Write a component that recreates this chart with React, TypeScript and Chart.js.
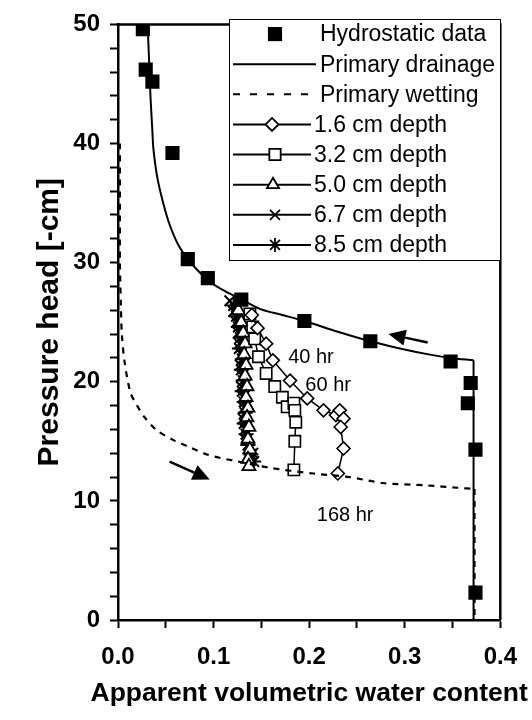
import { useEffect, useRef } from "react";
import { Chart, registerables } from "chart.js";

Chart.register(...registerables);

const FONT = "'Liberation Sans', Arial, Helvetica, sans-serif";

// ---- axis ticks & titles ----
const xTickValues = [0, 0.05, 0.1, 0.15, 0.2, 0.25, 0.3, 0.35, 0.4];
const xTickLabels = ["0.0", "", "0.1", "", "0.2", "", "0.3", "", "0.4"];
const yTickValues = [0, 2, 4, 6, 8, 10, 12, 14, 16, 18, 20, 22, 24, 26, 28, 30, 32, 34, 36, 38, 40, 42, 44, 46, 48, 50];
const yTickLabels = ["0", "", "", "", "", "10", "", "", "", "", "20", "", "", "", "", "30", "", "", "", "", "40", "", "", "", "", "50"];
const xTitle = "Apparent volumetric water content";
const yTitle = "Pressure head [-cm]";

// ---- series ----
const legendLabels = [
  "Hydrostatic data",
  "Primary drainage",
  "Primary wetting",
  "1.6 cm depth",
  "3.2 cm depth",
  "5.0 cm depth",
  "6.7 cm depth",
  "8.5 cm depth",
];

const hydroTheta = [0.026, 0.029, 0.036, 0.057, 0.073, 0.094, 0.129, 0.195, 0.264, 0.348, 0.369, 0.366, 0.374, 0.374];
const hydroHead = [49.6, 46.2, 45.2, 39.2, 30.3, 28.7, 26.9, 25.1, 23.4, 21.7, 19.9, 18.2, 14.3, 2.3];

const drainTheta = [0.031, 0.033, 0.034, 0.036, 0.037, 0.041, 0.047, 0.054, 0.063, 0.073, 0.084, 0.096, 0.112, 0.129, 0.149, 0.172, 0.195, 0.23, 0.264, 0.295, 0.325, 0.348, 0.372];
const drainHead = [50, 46, 43.9, 41, 39.6, 37.2, 35.1, 33.2, 31.5, 30.3, 29.3, 28.4, 27.6, 26.9, 26.1, 25.6, 25.1, 24.2, 23.4, 22.8, 22.3, 22.0, 21.8];
const drainVertTheta = [0.372, 0.372];
const drainVertHead = [21.8, 0];

const wetTheta = [0.002, 0.002, 0.002, 0.003, 0.004, 0.007, 0.013, 0.02, 0.028, 0.041, 0.058, 0.075, 0.093, 0.107, 0.12, 0.157, 0.204, 0.242, 0.277, 0.323, 0.355, 0.373];
const wetHead = [40, 34, 30, 26.5, 24.0, 21.6, 19.1, 18.0, 17.0, 15.9, 15.1, 14.5, 13.9, 13.6, 13.4, 12.8, 12.3, 12.0, 11.5, 11.3, 11.1, 11.0];
const wetVertTheta = [0.373, 0.373];
const wetVertHead = [11.0, 0];

const d16Theta = [0.14, 0.146, 0.155, 0.162, 0.18, 0.198, 0.215, 0.228, 0.232, 0.236, 0.233, 0.236, 0.23];
const d16Head = [25.6, 24.5, 23.2, 21.8, 20.1, 18.6, 17.6, 17.2, 17.6, 16.9, 16.2, 14.4, 12.3];

const d32Theta = [0.138, 0.141, 0.143, 0.147, 0.155, 0.164, 0.172, 0.177, 0.184, 0.185, 0.186, 0.185, 0.184];
const d32Head = [25.7, 24.6, 23.6, 22.1, 20.7, 19.6, 18.7, 17.9, 18.2, 17.6, 16.6, 15.0, 12.6];

const d50Theta = [0.126, 0.129, 0.131, 0.133, 0.132, 0.134, 0.133, 0.135, 0.134, 0.136, 0.135, 0.137, 0.136, 0.138, 0.136, 0.137];
const d50Head = [26.0, 25.0, 24.1, 23.2, 22.3, 21.4, 20.5, 19.6, 18.7, 17.8, 17.0, 16.2, 15.2, 14.3, 13.5, 12.9];

const d67Theta = [0.117, 0.121, 0.124, 0.126, 0.127, 0.129, 0.128, 0.13, 0.129, 0.131, 0.132, 0.131, 0.133, 0.134, 0.137, 0.141];
const d67Head = [26.8, 25.9, 25.0, 24.1, 23.2, 22.3, 21.4, 20.5, 19.6, 18.7, 17.8, 16.9, 16.0, 15.1, 14.4, 14.0];

const d85Theta = [0.121, 0.124, 0.126, 0.128, 0.127, 0.13, 0.129, 0.131, 0.13, 0.132, 0.133, 0.132, 0.134, 0.136, 0.139, 0.142];
const d85Head = [26.4, 25.5, 24.6, 23.7, 22.8, 21.9, 21.0, 20.1, 19.2, 18.3, 17.4, 16.5, 15.6, 14.7, 13.9, 13.3];

// ---- annotations ----
const noteTexts = ["40 hr", "60 hr", "168 hr"];
const noteTheta = [0.178, 0.196, 0.208];
const noteHead = [22.0, 19.7, 8.8];

const arrowTailTheta = [0.324, 0.054];
const arrowTailHead = [23.3, 13.3];
const arrowTipTheta = [0.283, 0.096];
const arrowTipHead = [24.0, 11.8];

const pts = (xs: number[], ys: number[]) => xs.map((x, i) => ({ x, y: ys[i] }));

function drawMarker(ctx: CanvasRenderingContext2D, style: string, x: number, y: number, r: number, fill: string) {
  ctx.beginPath();
  if (style === "rect") {
    const s = r * Math.SQRT1_2;
    ctx.rect(x - s, y - s, 2 * s, 2 * s);
    ctx.fillStyle = fill;
    ctx.fill();
    ctx.stroke();
  } else if (style === "rectRot") {
    ctx.moveTo(x, y - r);
    ctx.lineTo(x + r, y);
    ctx.lineTo(x, y + r);
    ctx.lineTo(x - r, y);
    ctx.closePath();
    ctx.fillStyle = fill;
    ctx.fill();
    ctx.stroke();
  } else if (style === "triangle") {
    ctx.moveTo(x, y - r);
    ctx.lineTo(x + r * 0.866, y + r * 0.5);
    ctx.lineTo(x - r * 0.866, y + r * 0.5);
    ctx.closePath();
    ctx.fillStyle = fill;
    ctx.fill();
    ctx.stroke();
  } else if (style === "crossRot") {
    const d = r * Math.SQRT1_2;
    ctx.moveTo(x - d, y - d);
    ctx.lineTo(x + d, y + d);
    ctx.moveTo(x - d, y + d);
    ctx.lineTo(x + d, y - d);
    ctx.stroke();
  } else if (style === "star") {
    const d = r * Math.SQRT1_2;
    ctx.moveTo(x - d, y - d);
    ctx.lineTo(x + d, y + d);
    ctx.moveTo(x - d, y + d);
    ctx.lineTo(x + d, y - d);
    ctx.moveTo(x, y - r);
    ctx.lineTo(x, y + r);
    ctx.moveTo(x - r, y);
    ctx.lineTo(x + r, y);
    ctx.stroke();
  }
}

const overlayPlugin = {
  id: "overlay",
  afterDatasetsDraw(chart: any) {
    const { ctx, chartArea, scales } = chart;
    const xs = scales.x;
    const ys = scales.y;
    ctx.save();

    // frame top & right
    ctx.strokeStyle = "#000";
    ctx.lineWidth = 2.5;
    ctx.setLineDash([]);
    ctx.beginPath();
    ctx.moveTo(chartArea.left - 1.25, chartArea.top);
    ctx.lineTo(chartArea.right, chartArea.top);
    ctx.lineTo(chartArea.right, chartArea.bottom);
    ctx.stroke();

    // notes
    ctx.fillStyle = "#000";
    ctx.font = `20px ${FONT}`;
    ctx.textAlign = "left";
    ctx.textBaseline = "middle";
    noteTexts.forEach((t, i) => {
      ctx.fillText(t, xs.getPixelForValue(noteTheta[i]), ys.getPixelForValue(noteHead[i]));
    });

    // arrows
    arrowTailTheta.forEach((_, i) => {
      const x0 = xs.getPixelForValue(arrowTailTheta[i]);
      const y0 = ys.getPixelForValue(arrowTailHead[i]);
      const x1 = xs.getPixelForValue(arrowTipTheta[i]);
      const y1 = ys.getPixelForValue(arrowTipHead[i]);
      const ang = Math.atan2(y1 - y0, x1 - x0);
      const hl = 17;
      const hw = 8;
      const bx = x1 - Math.cos(ang) * hl;
      const by = y1 - Math.sin(ang) * hl;
      ctx.lineWidth = 2.5;
      ctx.beginPath();
      ctx.moveTo(x0, y0);
      ctx.lineTo(bx, by);
      ctx.stroke();
      ctx.beginPath();
      ctx.moveTo(x1, y1);
      ctx.lineTo(bx + Math.sin(ang) * hw, by - Math.cos(ang) * hw);
      ctx.lineTo(bx - Math.sin(ang) * hw, by + Math.cos(ang) * hw);
      ctx.closePath();
      ctx.fill();
    });

    // legend
    const L = 229, T = 19, R = 500, B = 260;
    ctx.fillStyle = "#fff";
    ctx.fillRect(L, T, R - L, B - T);
    ctx.lineWidth = 1;
    ctx.strokeStyle = "#000";
    ctx.strokeRect(L + 0.5, T + 0.5, R - L, B - T);
    const rowH = (B - T) / 8;
    const styles = ["rect", "none", "none", "rectRot", "rect", "triangle", "crossRot", "star"];
    const markerR = [10, 0, 0, 6.5, 8, 7, 7, 7];
    const markerX = [275, 0, 0, 272, 275, 273, 275, 275];
    ctx.font = `23px ${FONT}`;
    legendLabels.forEach((lab, i) => {
      const cy = T + rowH * (i + 0.5);
      ctx.strokeStyle = "#000";
      ctx.lineWidth = 2;
      if (i === 1) {
        ctx.setLineDash([]);
        ctx.beginPath(); ctx.moveTo(233, cy); ctx.lineTo(316, cy); ctx.stroke();
      } else if (i === 2) {
        ctx.setLineDash([7, 10]);
        ctx.beginPath(); ctx.moveTo(233, cy); ctx.lineTo(316, cy); ctx.stroke();
        ctx.setLineDash([]);
      } else if (i >= 3) {
        ctx.beginPath(); ctx.moveTo(233, cy); ctx.lineTo(311, cy); ctx.stroke();
      }
      if (styles[i] !== "none") {
        ctx.lineWidth = i === 0 ? 0.01 : 1.8;
        drawMarker(ctx, styles[i], markerX[i], cy, markerR[i], i === 0 ? "#000" : "#fff");
      }
      ctx.fillStyle = "#000";
      ctx.textAlign = "left";
      ctx.textBaseline = "middle";
      ctx.fillText(lab, i < 3 ? 320 : 314, cy + 1);
    });

    ctx.restore();
  },
  afterDraw(chart: any) {
    // x-axis title, drawn wider than the axis (as in the reference)
    const { ctx, chartArea } = chart;
    ctx.save();
    ctx.fillStyle = "#000";
    ctx.font = `bold 26.5px ${FONT}`;
    ctx.textAlign = "center";
    ctx.textBaseline = "middle";
    ctx.fillText(xTitle, (chartArea.left + chartArea.right) / 2, chartArea.bottom + 74);
    ctx.restore();
  },
};

export default function App() {
  const ref = useRef<HTMLCanvasElement | null>(null);

  useEffect(() => {
    document.body.style.margin = "0";
    const canvas = ref.current;
    if (!canvas) return;

    const seriesLine = (label: string, data: any[], style: string, r: number, bw: number) => ({
      label,
      data,
      borderColor: "#000",
      borderWidth: 1.5,
      pointStyle: style,
      pointRadius: r,
      pointBackgroundColor: "#fff",
      pointBorderColor: "#000",
      pointBorderWidth: bw,
      showLine: true,
      tension: 0,
      order: 3,
    });

    const chart = new Chart(canvas, {
      type: "scatter",
      data: {
        datasets: [
          {
            label: legendLabels[0],
            data: pts(hydroTheta, hydroHead),
            pointStyle: "rect",
            pointRadius: 10,
            pointBackgroundColor: "#000",
            pointBorderColor: "#000",
            pointBorderWidth: 0,
            showLine: false,
            order: 0,
          } as any,
          {
            label: legendLabels[1],
            data: pts(drainTheta, drainHead),
            borderColor: "#000",
            borderWidth: 2,
            pointRadius: 0,
            showLine: true,
            tension: 0.3,
            order: 1,
          },
          {
            label: legendLabels[1] + " (saturated)",
            data: pts(drainVertTheta, drainVertHead),
            borderColor: "#000",
            borderWidth: 2,
            pointRadius: 0,
            showLine: true,
            order: 1,
          },
          {
            label: legendLabels[2],
            data: pts(wetTheta, wetHead),
            borderColor: "#000",
            borderWidth: 2.2,
            borderDash: [6, 6],
            pointRadius: 0,
            showLine: true,
            tension: 0.3,
            order: 2,
          },
          {
            label: legendLabels[2] + " (saturated)",
            data: pts(wetVertTheta, wetVertHead),
            borderColor: "#000",
            borderWidth: 2.2,
            borderDash: [6, 6],
            pointRadius: 0,
            showLine: true,
            order: 2,
          },
          seriesLine(legendLabels[3], pts(d16Theta, d16Head), "rectRot", 6.5, 1.6),
          seriesLine(legendLabels[4], pts(d32Theta, d32Head), "rect", 8, 1.6),
          seriesLine(legendLabels[5], pts(d50Theta, d50Head), "triangle", 7.5, 1.8),
          seriesLine(legendLabels[6], pts(d67Theta, d67Head), "crossRot", 7.5, 2),
          seriesLine(legendLabels[7], pts(d85Theta, d85Head), "star", 7.5, 2),
        ],
      },
      options: {
        responsive: false,
        animation: false,
        devicePixelRatio: 1,
        layout: { padding: { top: 17, right: 31, left: 0, bottom: 0 } },
        plugins: {
          legend: { display: false },
          tooltip: { enabled: false },
        },
        scales: {
          x: {
            type: "linear",
            min: 0,
            max: 0.4,
            afterBuildTicks: (s: any) => {
              s.ticks = xTickValues.map((v) => ({ value: v }));
            },
            afterFit: (s: any) => {
              s.height = 100;
            },
            ticks: {
              autoSkip: false,
              maxRotation: 0,
              padding: 15,
              color: "#000",
              font: { family: FONT, size: 24, weight: "bold" },
              callback: (_v: any, i: number) => xTickLabels[i],
            },
            grid: {
              drawOnChartArea: false,
              drawTicks: true,
              tickLength: 8,
              tickColor: "#000",
              tickWidth: 2,
            },
            border: { display: true, color: "#000", width: 2.5 },
            title: { display: false },
          },
          y: {
            type: "linear",
            min: 0,
            max: 50,
            afterBuildTicks: (s: any) => {
              s.ticks = yTickValues.map((v) => ({ value: v }));
            },
            afterFit: (s: any) => {
              s.width = 118;
            },
            ticks: {
              autoSkip: false,
              padding: 10,
              color: "#000",
              font: { family: FONT, size: 24, weight: "bold" },
              callback: (_v: any, i: number) => yTickLabels[i],
            },
            grid: {
              drawOnChartArea: false,
              drawTicks: true,
              tickLength: 8,
              tickColor: "#000",
              tickWidth: 2,
            },
            border: { display: true, color: "#000", width: 2.5 },
            title: {
              display: true,
              text: yTitle,
              color: "#000",
              font: { family: FONT, size: 30, weight: "bold" },
              padding: { top: 32, bottom: 0 },
            },
          },
        },
      },
      plugins: [overlayPlugin],
    } as any);

    return () => chart.destroy();
  }, []);

  return <canvas ref={ref} width={532} height={720} style={{ display: "block" }} />;
}
